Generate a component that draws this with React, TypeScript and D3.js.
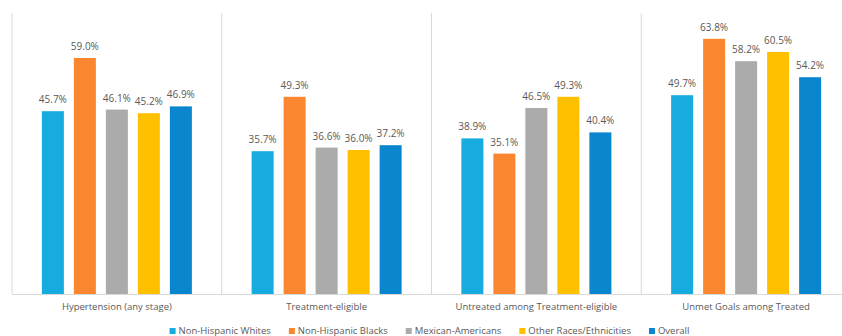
import React, { useEffect, useRef } from "react";
import * as d3 from "d3";

const categories = [
  "Hypertension (any stage)",
  "Treatment-eligible",
  "Untreated among Treatment-eligible",
  "Unmet Goals among Treated",
];
const seriesNames = [
  "Non-Hispanic Whites",
  "Non-Hispanic Blacks",
  "Mexican-Americans",
  "Other Races/Ethnicities",
  "Overall",
];
const seriesColors = ["#17ACDF", "#FB8630", "#ABABAB", "#FFC000", "#0A86CE"];
const whites = [45.7, 35.7, 38.9, 49.7];
const blacks = [59.0, 49.3, 35.1, 63.8];
const mexican = [46.1, 36.6, 46.5, 58.2];
const other = [45.2, 36.0, 49.3, 60.5];
const overall = [46.9, 37.2, 40.4, 54.2];
const seriesValues = [whites, blacks, mexican, other, overall];

const W = 842;
const H = 336;
const FONT = "'Open Sans', 'Noto Sans', sans-serif";

export default function App() {
  const ref = useRef<SVGSVGElement>(null);

  useEffect(() => {
    const svg = d3.select(ref.current);
    svg.selectAll("*").remove();

    const left = 12;
    const right = 851;
    const top = 14;
    const baseline = 294;

    const x0 = d3.scaleBand<string>().domain(categories).range([left, right]).padding(0);
    const step = 32;
    const bw = 22;
    const gw = x0.bandwidth();
    const pInner = 1 - bw / step;
    const pOuter = (gw / step - (seriesNames.length - pInner)) / 2;
    const x1 = d3
      .scaleBand<string>()
      .domain(seriesNames)
      .range([0, gw])
      .paddingInner(pInner)
      .paddingOuter(pOuter);
    const y = d3.scaleLinear().domain([0, 70]).range([baseline, top]);

    const grid = "#D9D9D9";
    // separators
    const bounds = categories.map((c) => x0(c)!).concat([right]);
    svg
      .append("g")
      .selectAll("line")
      .data(bounds)
      .join("line")
      .attr("x1", (d) => d)
      .attr("x2", (d) => d)
      .attr("y1", top - 1)
      .attr("y2", baseline)
      .attr("stroke", grid)
      .attr("stroke-width", 1);

    const groups = svg
      .append("g")
      .selectAll("g")
      .data(categories)
      .join("g")
      .attr("transform", (c) => `translate(${x0(c)},0)`);

    seriesNames.forEach((s, si) => {
      groups
        .append("rect")
        .attr("x", x1(s)!)
        .attr("width", x1.bandwidth())
        .attr("y", (_c, ci) => y(seriesValues[si][ci]))
        .attr("height", (_c, ci) => baseline - y(seriesValues[si][ci]))
        .attr("fill", seriesColors[si]);
      groups
        .append("text")
        .attr("x", x1(s)! + x1.bandwidth() / 2)
        .attr("y", (_c, ci) => y(seriesValues[si][ci]) - 8)
        .attr("text-anchor", "middle")
        .attr("font-family", FONT)
        .attr("font-size", 10)
        .attr("fill", "#595959")
        .text((_c, ci) => seriesValues[si][ci].toFixed(1) + "%");
    });

    svg
      .append("line")
      .attr("x1", left)
      .attr("x2", right)
      .attr("y1", baseline + 0.5)
      .attr("y2", baseline + 0.5)
      .attr("stroke", grid);

    groups
      .append("text")
      .attr("x", gw / 2)
      .attr("y", 310)
      .attr("text-anchor", "middle")
      .attr("font-family", FONT)
      .attr("font-size", 9.5)
      .attr("fill", "#595959")
      .text((c) => c);

    // legend
    const leg = svg.append("g");
    const items = leg
      .selectAll("g")
      .data(seriesNames)
      .join("g");
    items
      .append("rect")
      .attr("width", 6)
      .attr("height", 6)
      .attr("y", -6)
      .attr("fill", (_d, i) => seriesColors[i]);
    const texts = items
      .append("text")
      .attr("x", 9)
      .attr("y", 0)
      .attr("font-family", FONT)
      .attr("font-size", 9.5)
      .attr("fill", "#595959")
      .text((d) => d);
    const widths: number[] = [];
    texts.each(function () {
      widths.push((this as SVGTextElement).getComputedTextLength());
    });
    const gap = 18;
    let cx = 0;
    const offsets: number[] = [];
    widths.forEach((w) => {
      offsets.push(cx);
      cx += 9 + w + gap;
    });
    const total = cx - gap;
    const startX = (left + right) / 2 - total / 2 - 2;
    items.attr("transform", (_d, i) => `translate(${startX + offsets[i]},334)`);
  }, []);

  return (
    <svg
      ref={ref}
      width={W}
      height={H}
      style={{ position: "absolute", left: 0, top: 0, background: "#fff" }}
    />
  );
}
